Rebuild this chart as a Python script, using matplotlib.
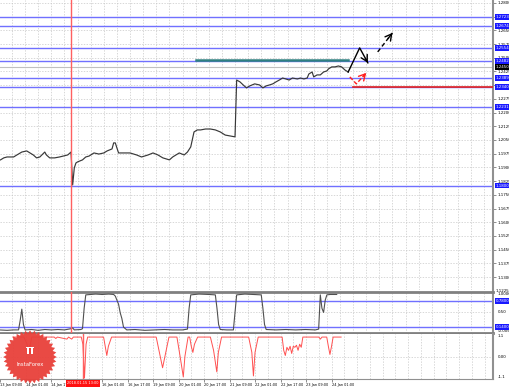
import matplotlib
matplotlib.use('Agg')
import matplotlib.pyplot as plt
import numpy as np
from matplotlib.patches import Polygon, Rectangle
from matplotlib.transforms import blended_transform_factory

W, H = 510, 388

# hourly closes (bar index, price)
price_hours = [1, 3, 5, 9, 11, 14, 17, 19, 21, 23, 25, 28, 29, 31, 34, 37, 42, 44, 45, 46,
               47, 48, 51, 53, 55, 58, 61, 64, 66, 69, 70, 71, 72, 73, 76, 80, 84, 87, 91, 94,
               97, 100, 104, 106, 110, 113, 115, 117, 119, 121, 123, 126, 129, 132, 135, 138,
               141, 144, 145, 147, 149, 151, 153, 156, 159, 161, 163, 165, 167, 169, 171, 173,
               175, 177, 179, 182, 184, 186, 188, 189, 191, 192, 194, 196, 198, 200, 201, 203,
               205, 207, 209, 211, 213]
price_values = [1.1941, 1.1952, 1.1957, 1.1957, 1.1968, 1.1984, 1.1990, 1.1979, 1.1968, 1.1952,
                1.1957, 1.1984, 1.1968, 1.1952, 1.1952, 1.1957, 1.1968, 1.1984, 1.1804, 1.1897,
                1.1924, 1.1930, 1.1941, 1.1957, 1.1962, 1.1979, 1.1973, 1.1979, 1.1990, 1.2001,
                1.2034, 1.2034, 1.2006, 1.1979, 1.1979, 1.1979, 1.1968, 1.1957, 1.1968, 1.1979,
                1.1968, 1.1952, 1.1941, 1.1957, 1.1979, 1.1968, 1.1984, 1.2012, 1.2094, 1.2105,
                1.2105, 1.2110, 1.2110, 1.2105, 1.2094, 1.2077, 1.2072, 1.2067, 1.2378, 1.2368,
                1.2351, 1.2335, 1.2346, 1.2357, 1.2351, 1.2335, 1.2346, 1.2351, 1.2357, 1.2368,
                1.2378, 1.2389, 1.2384, 1.2378, 1.2389, 1.2384, 1.2389, 1.2384, 1.2389, 1.2411,
                1.2422, 1.2395, 1.2406, 1.2406, 1.2422, 1.2428, 1.2439, 1.2450, 1.2450, 1.2455,
                1.2450, 1.2433, 1.2422]

price_ticks = [1.2800, 1.2725, 1.2650, 1.2575, 1.2500, 1.2425, 1.2350, 1.2275, 1.2200, 1.2125,
               1.2050, 1.1975, 1.1900, 1.1825, 1.1750, 1.1675, 1.1600, 1.1525, 1.1450, 1.1375,
               1.1300]
levels = [1.2723, 1.2674, 1.2554, 1.2482, 1.2389, 1.2340, 1.2231, 1.1800]
current_price = 1.2450
resistance = 1.2488
resistance_span = [120, 213]
support = 1.2340
support_span = [216, 302]

# forecast paths
fc_up_hours = [213, 220, 225]
fc_up_values = [1.2422, 1.2554, 1.2472]
fc_up2_hours = [231, 240]
fc_up2_values = [1.2532, 1.2636]
fc_down_hours = [214, 218, 224]
fc_down_values = [1.2395, 1.2357, 1.2417]

# oscillator (panel 1)
osc_hours = [0, 5, 9, 12, 13, 14, 15, 16, 20, 24, 28, 32, 36, 40, 44, 45, 46, 50, 51, 52, 53,
             56, 59, 63, 67, 70, 71, 73, 74, 75, 76, 78, 83, 89, 95, 101, 106, 112, 115, 116,
             117, 122, 128, 132, 133, 134, 135, 139, 143, 144, 145, 150, 155, 160, 161, 162,
             163, 169, 175, 181, 187, 193, 195, 196, 197, 198, 199, 200, 202, 206]
osc_values = [0.07, 0.06, 0.07, 0.07, 0.30, 0.58, 0.20, 0.07, 0.08, 0.06, 0.08, 0.07, 0.08,
              0.07, 0.10, 0.12, 0.07, 0.08, 0.10, 0.60, 0.93, 0.94, 0.95, 0.94, 0.95, 0.94,
              0.90, 0.70, 0.49, 0.35, 0.14, 0.07, 0.08, 0.06, 0.07, 0.08, 0.07, 0.07, 0.09,
              0.60, 0.93, 0.95, 0.94, 0.93, 0.60, 0.20, 0.08, 0.07, 0.07, 0.50, 0.93, 0.95,
              0.94, 0.93, 0.60, 0.20, 0.08, 0.07, 0.08, 0.07, 0.08, 0.07, 0.09, 0.93, 0.60,
              0.50, 0.80, 0.93, 0.94, 0.94]
osc_levels = [0.78, 0.14]

# signal (panel 2)
sig_hours = [0, 7, 9, 10, 11, 12, 26, 27, 28, 34, 35, 37, 38, 43, 44, 45, 46, 47, 57, 58, 59,
             60, 62, 90, 92, 94, 96, 98, 103, 105, 107, 108, 110, 111, 112, 113, 114, 116,
             124, 126, 128, 129, 131, 148, 150, 151, 152, 154, 169, 170, 171, 172, 173, 174,
             175, 176, 177, 178, 179, 180, 181, 182, 192, 193, 194, 197, 198, 199, 200, 201,
             206]
sig_values = [0.95, 0.95, 0.6, 0.2, 0.6, 0.95, 0.95, 0.88, 0.95, 0.85, 0.95, 0.85, 0.95, 0.95,
              0.6, -1.05, 0.6, 0.95, 0.95, 0.5, 0.05, 0.5, 0.95, 0.95, 0.2, -0.55, 0.2, 0.95,
              0.95, 0.0, -1.0, 0.0, 0.95, 0.95, 0.5, 0.2, 0.6, 0.95, 0.95, 0.3, -0.75, 0.2,
              0.95, 0.95, 0.2, -0.95, 0.2, 0.95, 0.95, 0.3, 0.05, 0.45, 0.3, 0.5, 0.15, 0.5,
              0.45, 0.55, 0.3, 0.6, 0.45, 0.95, 0.95, 0.85, 0.95, 0.95, 0.5, 0.1, 0.5, 0.95,
              0.95]

tick_hours = [-8, 8, 24, 56, 72, 88, 104, 120, 136, 152, 168, 184, 200]
tick_labels = ['13 Jan 09:00', '14 Jan 01:00', '14 Jan 17:00', '16 Jan 01:00', '16 Jan 17:00',
               '19 Jan 09:00', '20 Jan 01:00', '20 Jan 17:00', '21 Jan 09:00', '22 Jan 01:00',
               '22 Jan 17:00', '23 Jan 09:00', '24 Jan 01:00']
cursor_hour = 44
cursor_label = '2018.01.15 13:00'

XMIN, XMAX = 0.7, 301.3
grid_color = '#c8c8c8'
blue = '#7070ff'
fs = 2.9
fsx = 2.5

fig = plt.figure(figsize=(W / 100, H / 100), dpi=100)
fig.patch.set_facecolor('white')


def px_axes(x0, y0, x1, y1):
    return fig.add_axes([x0 / W, 1 - y1 / H, (x1 - x0) / W, (y1 - y0) / H])


ax = px_axes(0, 0, 493, 290)
ax1 = px_axes(0, 292, 493, 333)
ax2 = px_axes(0, 334, 493, 379)

for a in (ax, ax1, ax2):
    a.set_xlim(XMIN, XMAX)
    for s in ('left', 'top', 'bottom'):
        a.spines[s].set_visible(False)
    a.spines['right'].set_color('#909090')
    a.spines['right'].set_linewidth(1.5)
    a.yaxis.tick_right()
    a.tick_params(axis='y', length=2, width=0.5, colors='#606060', labelsize=fs, pad=1.5,
                  labelcolor='black')
    a.tick_params(axis='x', length=0, labelbottom=False)
    for h in range(0, int(XMAX) + 1, 8):
        a.axvline(h, color=grid_color, lw=0.5, ls=(0, (2, 2)), zorder=0)

# main price panel
ax.set_ylim(1.1229, 1.2816)
ax.set_yticks(price_ticks)
ax.set_yticklabels([f'{v:.4f}' for v in price_ticks])
for v in price_ticks:
    ax.axhline(v, color=grid_color, lw=0.5, ls=(0, (2, 2)), zorder=0)

ax.axhline(current_price, color='#c0c0c0', lw=0.8, zorder=1)
for v in levels:
    ax.axhline(v, color=blue, lw=1.0, zorder=2)
ax.plot(resistance_span, [resistance, resistance], color='#2f8080', lw=1.8, zorder=3)
ax.plot(support_span, [support, support], color='#e02020', lw=1.2, zorder=3)

ax.plot(price_hours, price_values, color='#383838', lw=0.85, zorder=4)


def head(a, xs, ys, color):
    x0, y0, x1, y1 = xs[-2], ys[-2], xs[-1], ys[-1]
    a.annotate('', xy=(x1, y1), xytext=(x0 + 0.7 * (x1 - x0), y0 + 0.7 * (y1 - y0)),
               arrowprops=dict(arrowstyle='->,head_length=0.45,head_width=0.25', color=color,
                               lw=1.0, shrinkA=0, shrinkB=0), zorder=5)


ax.plot(fc_up_hours, fc_up_values, color='black', lw=1.0, zorder=5)
head(ax, fc_up_hours, fc_up_values, 'black')
ax.plot(fc_up2_hours, fc_up2_values, color='black', lw=1.0, ls=(0, (3, 2)), zorder=5)
head(ax, fc_up2_hours, fc_up2_values, 'black')
ax.plot(fc_down_hours, fc_down_values, color='#ff2020', lw=1.0, ls=(0, (3, 1.5)), zorder=5)
head(ax, fc_down_hours, fc_down_values, '#ff2020')

tr = blended_transform_factory(ax.transAxes, ax.transData)
for v in levels:
    ax.text(1.006, v, f'{v:.4f}', transform=tr, fontsize=fs, color='white', va='center',
            ha='left', clip_on=False, zorder=10,
            bbox=dict(boxstyle='square,pad=0.2', fc='#1818ff', ec='none'))
ax.text(1.006, current_price, f'{current_price:.4f}', transform=tr, fontsize=fs, color='white',
        va='center', ha='left', clip_on=False, zorder=10,
        bbox=dict(boxstyle='square,pad=0.2', fc='black', ec='none'))
ax.text(1.006, 1.1225, '1.1225', transform=tr, fontsize=fs, va='center', ha='left',
        clip_on=False)

# oscillator panel
ax1.set_ylim(-0.0058, 1.0006)
ax1.set_yticks([])
ax1.axhline(0.5, color=grid_color, lw=0.5, ls=(0, (2, 2)), zorder=0)
for v in osc_levels:
    ax1.axhline(v, color=blue, lw=1.0, zorder=2)
ax1.plot(osc_hours, osc_values, color='#505050', lw=0.8, zorder=4)
tr1 = blended_transform_factory(ax1.transAxes, ax1.transData)
ax1.text(1.01, 1.0006, '1.0006', transform=tr1, fontsize=fs, va='top', clip_on=False)
ax1.text(1.01, 0.5, '0.50', transform=tr1, fontsize=fs, va='center', clip_on=False)
ax1.text(1.01, -0.0058, '-0.0058', transform=tr1, fontsize=fs, va='bottom', clip_on=False)
for v in osc_levels:
    ax1.text(1.006, v, f'{v:.4f}', transform=tr1, fontsize=fs, color='white', va='center',
             ha='left', clip_on=False, zorder=10,
             bbox=dict(boxstyle='square,pad=0.2', fc='#1818ff', ec='none'))

# signal panel
ax2.set_ylim(-1.1, 1.1)
ax2.set_yticks([])
ax2.axhline(0.0, color=grid_color, lw=0.5, ls=(0, (2, 2)), zorder=0)
ax2.plot(sig_hours, sig_values, color='#ff5050', lw=0.7, zorder=4)
tr2 = blended_transform_factory(ax2.transAxes, ax2.transData)
ax2.text(1.01, 1.1, '1.1', transform=tr2, fontsize=fs, va='top', clip_on=False)
ax2.text(1.01, 0.0, '0.00', transform=tr2, fontsize=fs, va='center', clip_on=False)
ax2.text(1.01, -1.1, '-1.1', transform=tr2, fontsize=fs, va='bottom', clip_on=False)
ax2.spines['bottom'].set_visible(True)
ax2.spines['bottom'].set_color('#909090')
ax2.set_xticks(tick_hours)
ax2.set_xticklabels(tick_labels, ha='left')
ax2.tick_params(axis='x', length=2, width=0.5, colors='#606060', labelsize=fsx, pad=1,
                labelbottom=True, labelcolor='black')
trx = blended_transform_factory(ax2.transData, ax2.transAxes)
ax2.text(cursor_hour, -0.1, cursor_label, transform=trx, fontsize=fsx, color='white',
         ha='center', va='center', clip_on=False, zorder=10,
         bbox=dict(boxstyle='square,pad=0.3', fc='#ff1010', ec='none'))

# panel separators
ax1.spines['top'].set_visible(True)
ax1.spines['top'].set_color('#808080')
ax1.spines['top'].set_linewidth(2)
ax1.spines['bottom'].set_visible(True)
ax1.spines['bottom'].set_color('#808080')
ax1.spines['bottom'].set_linewidth(2)

# crosshair
for a in (ax, ax1, ax2):
    a.axvline(cursor_hour, color='#ff6060', lw=1.0, zorder=6)

# logo
lg = px_axes(2, 329, 58, 385)
lg.set_xlim(-1.05, 1.05)
lg.set_ylim(-1.05, 1.05)
lg.axis('off')
ang = np.linspace(0, 2 * np.pi, 73)[:-1]
rad = np.where(np.arange(72) % 2 == 0, 1.0, 0.88)
lg.add_patch(Polygon(np.column_stack([rad * np.cos(ang), rad * np.sin(ang)]),
                     closed=True, fc='#e8403a', ec='none', alpha=0.95))
lg.add_patch(Rectangle((-0.13, 0.12), 0.26, 0.24, fc='white', ec='none'))
lg.add_patch(Rectangle((-0.03, 0.12), 0.06, 0.32, fc='#e8403a', ec='none'))
lg.add_patch(Rectangle((-0.16, 0.32), 0.32, 0.07, fc='white', ec='none'))
lg.text(0, -0.3, 'InstaForex', color='white', fontsize=3.8, ha='center', va='center')

fig.savefig('out.png', dpi=100)
